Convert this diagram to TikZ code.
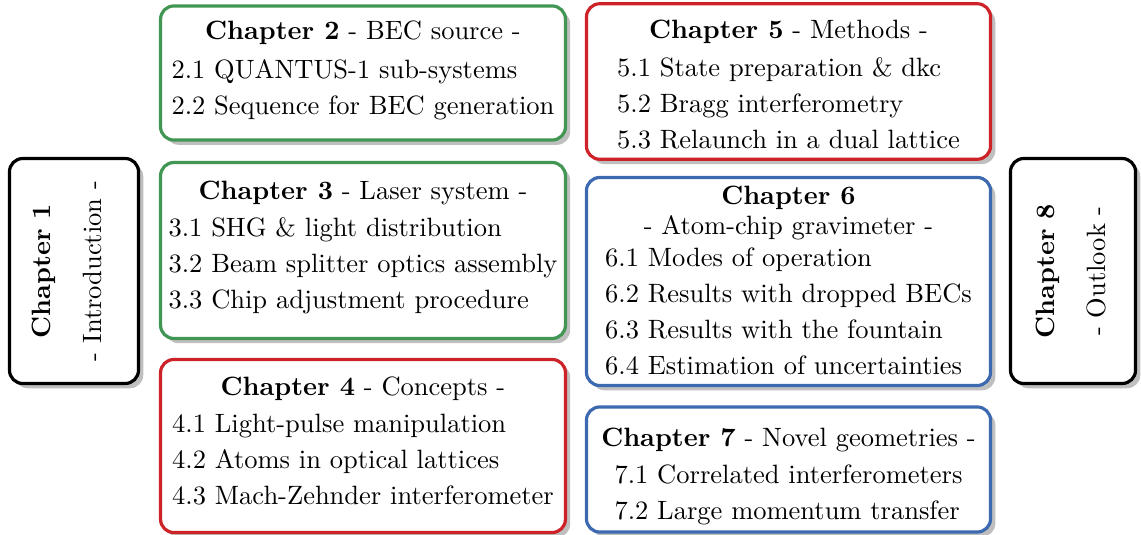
\documentclass[tikz,border=0pt]{standalone}
\usepackage{graphicx}
\usetikzlibrary{shadows}
\definecolor{chgreen}{RGB}{64,150,82}
\definecolor{chred}{RGB}{205,35,40}
\definecolor{chblue}{RGB}{60,105,175}
\renewcommand{\arraystretch}{1.13}
\newcommand{\chaplist}[1]{\begin{tabular}[t]{@{}l@{}}#1\end{tabular}}
\begin{document}
\begin{tikzpicture}[x=0.3774pt, y=-0.3774pt,
    chapbox/.style={draw=#1, fill=white, very thick, rounded corners=5pt,
        align=center, inner sep=0pt,
        drop shadow={shadow xshift=1.8pt, shadow yshift=-1.8pt, fill=black!25, opacity=1}}]
    \useasboundingbox (0,0) rectangle (1141,535);

    % Introduction and outlook
    \node[chapbox=black, minimum width=48.7pt, minimum height=84.9pt] (ch1) at (74,271)
        {\rotatebox{90}{\begin{tabular}{c}\textbf{Chapter 1}\\[5.5pt]- Introduction -\rule[-7.9pt]{0pt}{7.9pt}\end{tabular}}};
    \node[chapbox=black, minimum width=47.2pt, minimum height=84.9pt] (ch8) at (1073,271)
        {\rotatebox{90}{\begin{tabular}{c}\textbf{Chapter 8}\\[5.5pt]- Outlook -\end{tabular}}};

    % Left column
    \node[chapbox=chgreen, minimum width=152.8pt, minimum height=50.6pt] (ch2) at (363,73)
        {\textbf{Chapter 2} - BEC source -\\[3pt]
        \chaplist{2.1 QUANTUS-1 sub-systems\\2.2 Sequence for BEC generation}};
    \node[chapbox=chgreen, minimum width=152.8pt, minimum height=66.4pt] (ch3) at (363,250.5)
        {\textbf{Chapter 3} - Laser system -\\[2pt]
        \chaplist{3.1 SHG \& light distribution\\3.2 Beam splitter optics assembly\\3.3 Chip adjustment procedure}};
    \node[chapbox=chred, minimum width=152.8pt, minimum height=65.3pt] (ch4) at (363,446)
        {\textbf{Chapter 4} - Concepts -\\[2pt]
        \chaplist{4.1 Light-pulse manipulation\\4.2 Atoms in optical lattices\\4.3 Mach-Zehnder interferometer}};

    % Right column
    \node[chapbox=chred, minimum width=152.5pt, minimum height=55.9pt] (ch5) at (788.5,81.5)
        {\rule{0pt}{13pt}\textbf{Chapter 5} - Methods -\\[2.5pt]
        \chaplist{5.1 State preparation \& dkc\\5.2 Bragg interferometry\\5.3 Relaunch in a dual lattice}};
    \node[chapbox=chblue, minimum width=152.5pt, minimum height=78.5pt] (ch6) at (788.5,281.5)
        {\rule{0pt}{10pt}\textbf{Chapter 6}\\[-0.6pt]- Atom-chip gravimeter -\\
        \chaplist{6.1 Modes of operation\\6.2 Results with dropped BECs\\6.3 Results with the fountain\\6.4 Estimation of uncertainties}};
    \node[chapbox=chblue, minimum width=152.5pt, minimum height=47.2pt] (ch7) at (788.5,469.5)
        {\rule{0pt}{14pt}\textbf{Chapter 7} - Novel geometries -\\[2pt]
        \chaplist{7.1 Correlated interferometers\\7.2 Large momentum transfer}};
\end{tikzpicture}
\end{document}
